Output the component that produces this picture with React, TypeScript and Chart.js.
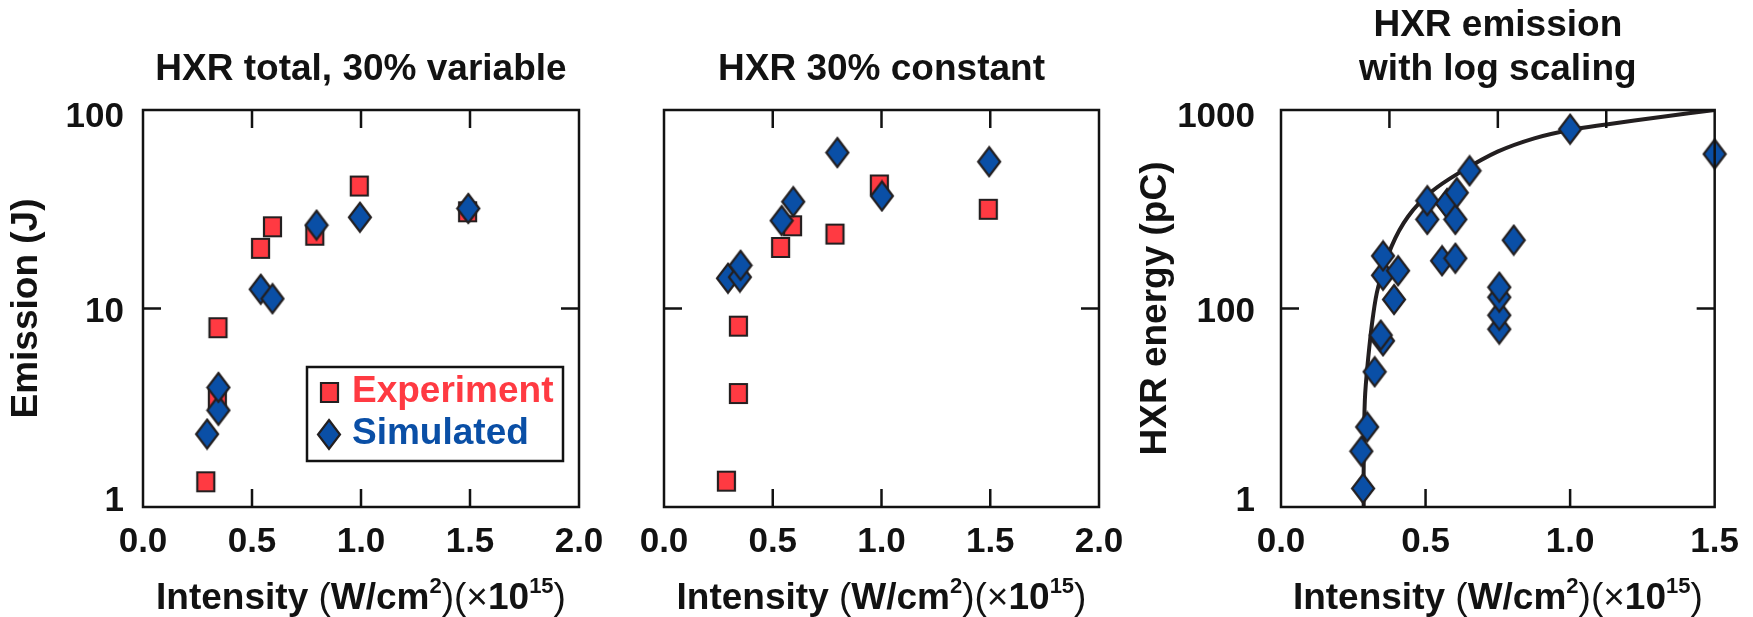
import React, { useEffect, useRef } from "react";
import { Chart, registerables } from "chart.js";

Chart.register(...registerables);

const FONT = "'Liberation Sans', Arial, Helvetica, sans-serif";
const INK = "#121212";
const RED = "#ff3a42";
const BLUE = "#0a4fa6";
const EDGE = "#231f20";

// ---------- Panel 1: HXR total, 30% variable ----------
const p1Title = "HXR total, 30% variable";
const p1ExpX = [0.288, 0.341, 0.344, 0.539, 0.594, 0.788, 0.992, 1.489];
const p1ExpY = [1.34, 3.52, 8.0, 20.1, 25.8, 23.4, 41.4, 30.7];
const p1SimX = [0.294, 0.346, 0.346, 0.54, 0.594, 0.796, 0.995, 1.492];
const p1SimY = [2.33, 3.07, 4.0, 12.5, 11.2, 26.3, 28.8, 31.9];

// ---------- Panel 2: HXR 30% constant ----------
const p2Title = "HXR 30% constant";
const p2ExpX = [0.287, 0.342, 0.342, 0.536, 0.591, 0.786, 0.99, 1.491];
const p2ExpY = [1.35, 3.73, 8.15, 20.3, 26.1, 23.7, 41.9, 31.6];
const p2SimX = [0.294, 0.349, 0.352, 0.541, 0.594, 0.797, 1.002, 1.495];
const p2SimY = [14.2, 14.4, 16.5, 27.7, 34.5, 61.0, 36.9, 54.9];

// ---------- Panel 3: HXR emission with log scaling ----------
const p3Title = ["HXR emission", "with log scaling"];
const p3SimX = [0.284, 0.278, 0.298, 0.324, 0.353, 0.345, 0.353, 0.353, 0.391, 0.405, 0.506, 0.506, 0.557, 0.574, 0.603, 0.603, 0.608, 0.652, 0.755, 0.755, 0.755, 0.755, 0.805, 1.0, 1.5];
const p3SimY = [12.4, 19.1, 25.3, 48.0, 68.7, 73.4, 147, 184, 111, 155, 281, 349, 174, 338, 179, 281, 383, 494, 78.7, 92.5, 114, 128, 221, 800, 600];
const p3FitX = [0.286, 0.286, 0.29, 0.301, 0.318, 0.336, 0.382, 0.439, 0.52, 0.623, 0.749, 0.876, 1.0, 1.125, 1.32, 1.5];
const p3FitY = [10, 16, 34.5, 55, 91, 128, 205, 290, 387, 489, 617, 720, 793, 845, 925, 1000];

// ---------- Axes ----------
const xTicks12 = [0, 0.5, 1, 1.5, 2];
const xTickLabels12 = ["0.0", "0.5", "1.0", "1.5", "2.0"];
const yTicks12 = [1, 10, 100];
const yTickLabels12 = ["1", "10", "100"];
const xTicks3 = [0, 0.5, 1, 1.5];
const xTickLabels3 = ["0.0", "0.5", "1.0", "1.5"];
const xTopTicks3 = [0, 0.5, 1, 1.5, 2];
const yTicks3 = [10, 100, 1000];
const yTickLabels3 = ["1", "100", "1000"];

// x-axis title: "Intensity (W/cm2)(×1015)" with superscripts
const xTitleParts = [
  { text: "Intensity ", bold: true, sup: false },
  { text: "(", bold: false, sup: false },
  { text: "W/cm", bold: true, sup: false },
  { text: "2", bold: true, sup: true },
  { text: ")(", bold: false, sup: false },
  { text: "×", bold: false, sup: false },
  { text: "10", bold: true, sup: false },
  { text: "15", bold: true, sup: true },
  { text: ")", bold: false, sup: false },
];
const yTitle1 = "Emission (J)";
const yTitle3 = "HXR energy (pC)";
const seriesLabels = ["Experiment", "Simulated"];

const H = 617;

function zip(xs: number[], ys: number[]) {
  return xs.map((x, i) => ({ x, y: ys[i] }));
}

function makeMarker(shape: "square" | "diamond", w: number, h: number, fill: string) {
  const pad = 2;
  const c = document.createElement("canvas");
  c.width = w + 2 * pad;
  c.height = h + 2 * pad;
  const g = c.getContext("2d")!;
  g.fillStyle = fill;
  g.strokeStyle = EDGE;
  g.lineWidth = 2.2;
  g.lineJoin = "miter";
  g.beginPath();
  if (shape === "square") {
    g.rect(pad + 1, pad + 1, w - 2, h - 2);
  } else {
    g.moveTo(pad + w / 2, pad);
    g.lineTo(pad + w, pad + h / 2);
    g.lineTo(pad + w / 2, pad + h);
    g.lineTo(pad, pad + h / 2);
    g.closePath();
  }
  g.fill();
  g.stroke();
  return c;
}

const framePlugin = {
  id: "frame",
  beforeDraw(chart: any, _args: any, opts: any) {
    // nudge the y tick labels (bottom label up, upper labels down) as in the original
    const s = chart.scales.y;
    if (!s || !opts.labelShift || !s.options.ticks.display) return;
    const items = s.getLabelItems(chart.chartArea);
    items.forEach((it: any, i: number) => {
      const d = opts.labelShift[i] ?? 0;
      if (it.options && it.options.translation) it.options.translation[1] += d;
    });
  },
  afterDraw(chart: any, _args: any, opts: any) {
    const { ctx, chartArea: a } = chart;
    const L = opts.tickLength;
    ctx.save();
    ctx.strokeStyle = INK;
    ctx.lineWidth = opts.lineWidth;
    ctx.lineJoin = "miter";
    ctx.beginPath();
    for (const m of opts.marks) {
      const s = chart.scales[m.scale];
      if (!s) continue;
      for (const t of s.ticks) {
        const p = s.getPixelForValue(t.value);
        if (s.isHorizontal()) {
          if (p <= a.left + 2 || p >= a.right - 2) continue;
          for (const side of m.sides) {
            if (side === "bottom") {
              ctx.moveTo(p, a.bottom);
              ctx.lineTo(p, a.bottom - L);
            } else {
              ctx.moveTo(p, a.top);
              ctx.lineTo(p, a.top + L);
            }
          }
        } else {
          if (p <= a.top + 2 || p >= a.bottom - 2) continue;
          for (const side of m.sides) {
            if (side === "left") {
              ctx.moveTo(a.left, p);
              ctx.lineTo(a.left + L, p);
            } else {
              ctx.moveTo(a.right, p);
              ctx.lineTo(a.right - L, p);
            }
          }
        }
      }
    }
    ctx.stroke();
    ctx.strokeRect(a.left, a.top, a.right - a.left, a.bottom - a.top);
    ctx.restore();
  },
};

const xTitlePlugin = {
  id: "xTitleSup",
  afterDraw(chart: any, _args: any, opts: any) {
    const { ctx, chartArea: a } = chart;
    const fontFor = (p: any) => `${p.bold ? "bold" : "normal"} ${p.sup ? opts.supSize : opts.size}px ${FONT}`;
    let total = 0;
    const widths = xTitleParts.map((p) => {
      ctx.font = fontFor(p);
      const w = ctx.measureText(p.text).width;
      total += w;
      return w;
    });
    let x = (a.left + a.right) / 2 - total / 2;
    const base = a.bottom + opts.baselineOffset;
    ctx.save();
    ctx.fillStyle = INK;
    ctx.textBaseline = "alphabetic";
    ctx.textAlign = "left";
    xTitleParts.forEach((p, i) => {
      ctx.font = fontFor(p);
      ctx.fillText(p.text, x, p.sup ? base - opts.supRise : base);
      x += widths[i];
    });
    ctx.restore();
  },
};

const boxLegendPlugin = {
  id: "boxLegend",
  afterDraw(chart: any, _args: any, opts: any) {
    if (!opts || !opts.display) return;
    const { ctx, chartArea: a } = chart;
    const x = a.right - opts.right - opts.width;
    const y = a.bottom - opts.bottom - opts.height;
    ctx.save();
    ctx.fillStyle = "#ffffff";
    ctx.fillRect(x, y, opts.width, opts.height);
    ctx.strokeStyle = INK;
    ctx.lineWidth = 2.5;
    ctx.strokeRect(x, y, opts.width, opts.height);
    ctx.font = `bold ${opts.fontSize}px ${FONT}`;
    ctx.textBaseline = "middle";
    ctx.textAlign = "left";
    opts.rows.forEach((rowY: number, i: number) => {
      const ds = chart.data.datasets[opts.datasets[i]];
      const img = ds.pointStyle as HTMLCanvasElement;
      const cy = y + rowY;
      ctx.drawImage(img, Math.round(x + opts.markerX - img.width / 2), Math.round(cy - img.height / 2));
      ctx.fillStyle = ds.backgroundColor;
      ctx.fillText(ds.label, x + opts.textX, cy);
    });
    ctx.restore();
  },
};

function bold(size: number) {
  return { family: FONT, size, weight: "bold" as const };
}

function xAxis(ticks: number[], labels: string[], max: number) {
  return {
    type: "linear",
    position: "bottom",
    min: 0,
    max,
    afterBuildTicks: (s: any) => {
      s.ticks = ticks.map((v) => ({ value: v }));
    },
    afterFit: (s: any) => {
      s.height = 110;
    },
    grid: { display: false, drawTicks: false },
    border: { display: false },
    ticks: {
      font: bold(35),
      color: INK,
      padding: 14,
      maxRotation: 0,
      autoSkip: false,
      callback: (v: any) => labels[ticks.indexOf(Number(v))] ?? "",
    },
    title: { display: false },
  };
}

function yAxis(
  min: number,
  max: number,
  ticks: number[],
  labels: string[],
  width: number,
  showLabels: boolean,
  title: string,
  tickPad: number,
  titlePad: number
) {
  return {
    type: "logarithmic",
    position: "left",
    min,
    max,
    afterBuildTicks: (s: any) => {
      s.ticks = ticks.map((v) => ({ value: v }));
    },
    afterFit: (s: any) => {
      s.width = width;
    },
    grid: { display: false, drawTicks: false },
    border: { display: false },
    ticks: {
      display: showLabels,
      font: bold(35),
      color: INK,
      padding: tickPad,
      callback: (v: any) => labels[ticks.indexOf(Number(v))] ?? "",
    },
    title: {
      display: title !== "",
      text: title,
      font: bold(37),
      color: INK,
      padding: { top: titlePad, bottom: 0 },
    },
  };
}

function titleOpts(text: string | string[], padTop: number) {
  return {
    display: true,
    text,
    fullSize: false,
    color: INK,
    font: { family: FONT, size: 37, weight: "bold" as const, lineHeight: 44 / 37 },
    padding: { top: padTop, bottom: 18.5 },
  };
}

function baseOptions(padRight: number) {
  return {
    responsive: false,
    maintainAspectRatio: false,
    animation: false,
    events: [],
    layout: { padding: { left: 0, right: padRight, top: 0, bottom: 0 } },
  };
}

const xTitleOpts = { size: 37, supSize: 22, baselineOffset: 102, supRise: 16 };
const yLabelShift = [-6, 4, 7];

function scatterSet(label: string, xs: number[], ys: number[], marker: HTMLCanvasElement, color: string, order: number) {
  return {
    label,
    data: zip(xs, ys),
    pointStyle: marker,
    pointRadius: 12,
    backgroundColor: color,
    borderColor: color,
    showLine: false,
    clip: false,
    order,
  };
}

function config1() {
  const sq = makeMarker("square", 19, 21, RED);
  const di = makeMarker("diamond", 22, 29, BLUE);
  return {
    type: "scatter",
    data: {
      datasets: [
        scatterSet(seriesLabels[0], p1ExpX, p1ExpY, sq, RED, 2),
        scatterSet(seriesLabels[1], p1SimX, p1SimY, di, BLUE, 1),
      ],
    },
    options: {
      ...baseOptions(41),
      scales: {
        x: xAxis(xTicks12, xTickLabels12, 2),
        y: yAxis(1, 100, yTicks12, yTickLabels12, 143, true, yTitle1, 19, 5),
      },
      plugins: {
        legend: { display: false },
        tooltip: { enabled: false },
        title: titleOpts(p1Title, 47.5),
        xTitleSup: xTitleOpts,
        frame: {
          tickLength: 18,
          lineWidth: 2.5,
          labelShift: yLabelShift,
          marks: [
            { scale: "x", sides: ["top", "bottom"] },
            { scale: "y", sides: ["left", "right"] },
          ],
        },
        boxLegend: {
          display: true,
          right: 16,
          bottom: 46,
          width: 256,
          height: 94,
          fontSize: 37,
          markerX: 22,
          textX: 45,
          rows: [25, 67],
          datasets: [0, 1],
        },
      },
    },
    plugins: [framePlugin, xTitlePlugin, boxLegendPlugin],
  };
}

function config2() {
  const sq = makeMarker("square", 19, 21, RED);
  const di = makeMarker("diamond", 22, 29, BLUE);
  return {
    type: "scatter",
    data: {
      datasets: [
        scatterSet(seriesLabels[0], p2ExpX, p2ExpY, sq, RED, 2),
        scatterSet(seriesLabels[1], p2SimX, p2SimY, di, BLUE, 1),
      ],
    },
    options: {
      ...baseOptions(41),
      scales: {
        x: xAxis(xTicks12, xTickLabels12, 2),
        y: yAxis(1, 100, yTicks12, yTickLabels12, 44, false, "", 19, 0),
      },
      plugins: {
        legend: { display: false },
        tooltip: { enabled: false },
        title: titleOpts(p2Title, 47.5),
        xTitleSup: xTitleOpts,
        frame: {
          tickLength: 18,
          lineWidth: 2.5,
          marks: [
            { scale: "x", sides: ["top", "bottom"] },
            { scale: "y", sides: ["left", "right"] },
          ],
        },
      },
    },
    plugins: [framePlugin, xTitlePlugin],
  };
}

function config3() {
  const di = makeMarker("diamond", 22, 29, BLUE);
  return {
    type: "scatter",
    data: {
      datasets: [
        {
          label: "Log scaling",
          data: zip(p3FitX, p3FitY),
          showLine: true,
          borderColor: EDGE,
          backgroundColor: EDGE,
          borderWidth: 4,
          pointRadius: 0,
          tension: 0.35,
          fill: false,
          order: 2,
        },
        scatterSet(seriesLabels[1], p3SimX, p3SimY, di, BLUE, 1),
      ],
    },
    options: {
      ...baseOptions(36),
      scales: {
        x: xAxis(xTicks3, xTickLabels3, 1.5),
        x2: {
          type: "linear",
          position: "top",
          min: 0,
          max: 2,
          display: false,
          afterBuildTicks: (s: any) => {
            s.ticks = xTopTicks3.map((v) => ({ value: v }));
          },
        },
        y: yAxis(10, 1000, yTicks3, yTickLabels3, 151, true, yTitle3, 26, 4),
      },
      plugins: {
        legend: { display: false },
        tooltip: { enabled: false },
        title: titleOpts(p3Title, 3.5),
        xTitleSup: xTitleOpts,
        frame: {
          tickLength: 18,
          lineWidth: 2.5,
          labelShift: yLabelShift,
          marks: [
            { scale: "x", sides: ["bottom"] },
            { scale: "x2", sides: ["top"] },
            { scale: "y", sides: ["left", "right"] },
          ],
        },
      },
    },
    plugins: [framePlugin, xTitlePlugin],
  };
}

function Panel({ left, width, make }: { left: number; width: number; make: () => any }) {
  const ref = useRef<HTMLCanvasElement>(null);
  useEffect(() => {
    const chart = new Chart(ref.current as HTMLCanvasElement, make());
    return () => chart.destroy();
  }, []);
  return (
    <div style={{ position: "absolute", left, top: 0, width, height: H }}>
      <canvas ref={ref} width={width} height={H} style={{ width, height: H, display: "block" }} />
    </div>
  );
}

export default function App() {
  return (
    <div style={{ position: "absolute", left: 0, top: 0, width: 1753, height: H, background: "#ffffff", overflow: "hidden" }}>
      <Panel left={0} width={620} make={config1} />
      <Panel left={620} width={520} make={config2} />
      <Panel left={1130} width={623} make={config3} />
    </div>
  );
}
